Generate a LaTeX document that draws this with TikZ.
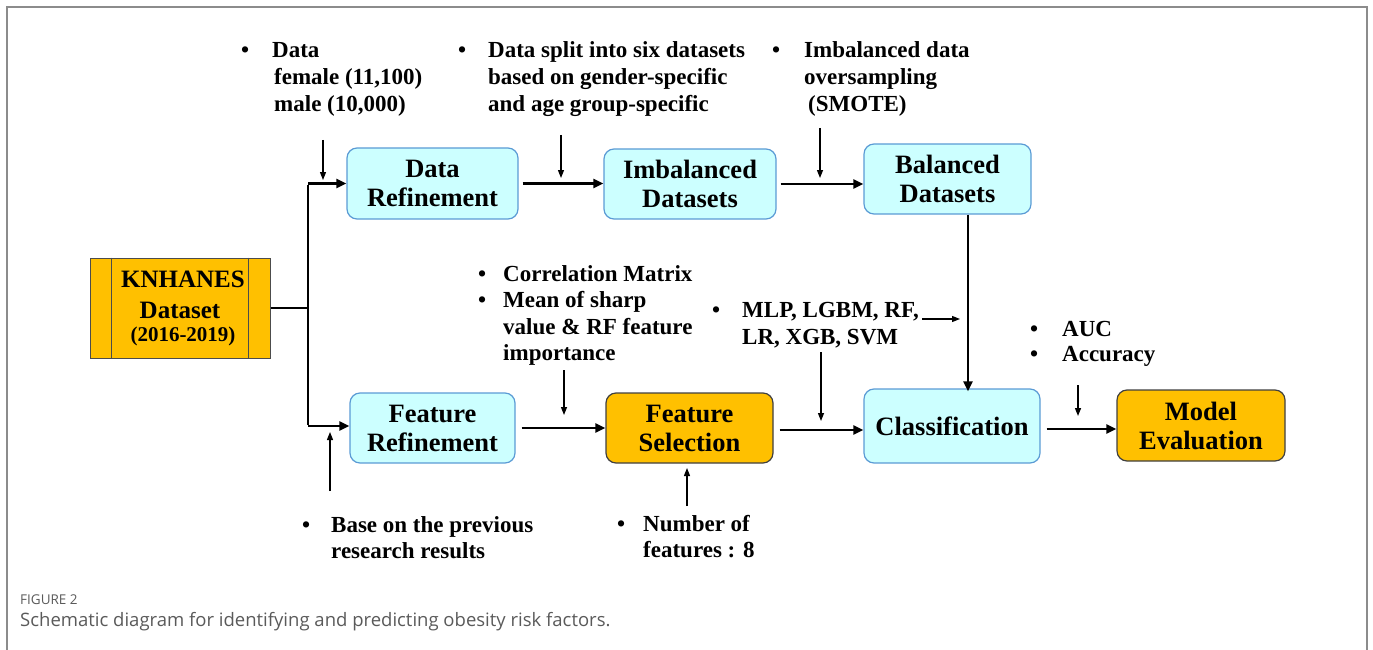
\documentclass[tikz,border=0pt]{standalone}
\usepackage{fontspec}
\setmainfont{Liberation Serif}
\newfontfamily\capfont{Open Sans}
\usetikzlibrary{arrows.meta}
\definecolor{boxcyan}{HTML}{CCFFFF}
\definecolor{cyanline}{HTML}{5B9BD5}
\definecolor{boxorange}{HTML}{FFC000}
\definecolor{framegray}{HTML}{8C8C8C}
\definecolor{captxt}{HTML}{5A5A5A}
\begin{document}
\begin{tikzpicture}[x=1pt,y=-1pt,
  cbox/.style={draw=cyanline, fill=boxcyan, rounded corners=10pt, line width=1.2pt, align=center,
    font=\bfseries\fontsize{26.5}{29}\selectfont, inner sep=0pt},
  obox/.style={draw=black!75, fill=boxorange, rounded corners=10pt, line width=1.2pt, align=center,
    font=\bfseries\fontsize{26.5}{29}\selectfont, inner sep=0pt},
  flowln/.style={line width=2.8pt},
  flowarr/.style={line width=2.8pt, -{Triangle[length=10pt,width=9pt]}},
  notearr/.style={line width=1.3pt, -{Triangle[length=8pt,width=6pt]}},
  ann/.style={anchor=base west, font=\bfseries\fontsize{23}{26}\selectfont, inner sep=0pt},
  kntxt/.style={anchor=base, font=\bfseries\fontsize{25}{30}\selectfont, inner sep=0pt}
]
\useasboundingbox (0,0) rectangle (1373,650);
% frame
\draw[framegray, line width=2pt] (7,650) -- (7,7) -- (1367,7) -- (1367,650);

% KNHANES box
\node[draw=black!70, fill=boxorange, line width=1pt, minimum width=180pt, minimum height=100pt, inner sep=0pt] (kn) at (180,308) {};
\draw[black!70, line width=1pt] ([xshift=22pt]kn.north west) -- ([xshift=22pt]kn.south west);
\draw[black!70, line width=1pt] ([xshift=-22pt]kn.north east) -- ([xshift=-22pt]kn.south east);
\node[kntxt] (kn1) at (183,287) {KNHANES};
\node[kntxt] (kn2) at (180,318) {Dataset};
\node[kntxt, font=\bfseries\fontsize{21}{25}\selectfont] (kn3) at (183,341) {(2016-2019)};

% process boxes
\node[cbox, minimum width=171pt, minimum height=71pt] (dref) at (432.5,183.5) {Data\\Refinement};
\node[cbox, minimum width=172pt, minimum height=70pt] (imb) at (690,184) {Imbalanced\\Datasets};
\node[cbox, minimum width=167pt, minimum height=70pt] (bal) at (947.5,179) {Balanced\\Datasets};
\node[cbox, minimum width=165pt, minimum height=70pt] (fref) at (432.5,428) {Feature\\Refinement};
\node[obox, minimum width=167pt, minimum height=70pt] (fsel) at (689.5,428) {Feature\\Selection};
\node[cbox, minimum width=176pt, minimum height=74pt] (cls) at (952,426) {Classification};
\node[obox, minimum width=168pt, minimum height=71pt] (mev) at (1201,425.5) {Model\\Evaluation};

% main connectors
\coordinate (jn) at (308,308);
\coordinate (jt) at (308,183.5);
\coordinate (jb) at (308,426);
\draw[flowln] (kn.east) -- (jn);
\draw[flowln] ([yshift=-1.4pt]jt) -- ([yshift=1.4pt]jb);
\draw[flowarr] (jt) -- (dref.west);
\draw[flowarr] (jb) -- (jb -| fref.west);
\draw[flowarr, shorten <=4pt] (dref.east) -- (dref.east -| imb.west);
\draw[flowarr, shorten <=4pt] (imb.east) -- (imb.east -| bal.west);
\draw[flowarr] ([xshift=20.5pt]bal.south) -- ([xshift=20.5pt,yshift=-3pt]bal.south |- cls.north);
\draw[flowarr, shorten <=6pt] (fref.east) -- (fref.east -| fsel.west);
\draw[flowarr, shorten <=6pt] ([yshift=-2pt]fsel.east) -- ([yshift=-2pt]fsel.east -| cls.west);
\draw[flowarr, shorten <=6pt] ([yshift=-3pt]cls.east) -- ([yshift=-3pt]cls.east -| mev.west);

% annotation arrows
\coordinate (n1s) at (323,140); \coordinate (n1e) at (323,180);
\coordinate (n2s) at (561,135); \coordinate (n2e) at (561,178);
\coordinate (n3s) at (820,128); \coordinate (n3e) at (820,178);
\coordinate (n4s) at (564,370); \coordinate (n4e) at (564,415);
\coordinate (n5s) at (821,352); \coordinate (n5e) at (821,421);
\coordinate (n6s) at (922,319); \coordinate (n6e) at (960,319);
\coordinate (n7s) at (1078,385); \coordinate (n7e) at (1078,416);
\coordinate (n8s) at (330,491); \coordinate (n8e) at (330,432);
\coordinate (n9s) at (687,506); \coordinate (n9e) at (687,468);
\foreach \i in {1,...,9} {\draw[notearr] (n\i s) -- (n\i e);}

% annotation texts
\node[ann] (b1) at (241,57.5) {•};
\node[ann] (t1a) at (272,57.5) {Data};
\node[ann] (t1b) at (274,84.5) {female (11,100)};
\node[ann] (t1c) at (274,111.5) {male (10,000)};

\node[ann] (b2) at (458,57.5) {•};
\node[ann] (t2a) at (488,57.5) {Data split into six datasets};
\node[ann] (t2b) at (488,84.5) {based on gender-specific};
\node[ann] (t2c) at (488,111.5) {and age group-specific};

\node[ann] (b3) at (772,57.5) {•};
\node[ann] (t3a) at (804,57.5) {Imbalanced data};
\node[ann] (t3b) at (804,84.5) {oversampling};
\node[ann] (t3c) at (808,111.5) {(SMOTE)};

\node[ann] (b4) at (478,281) {•};
\node[ann] (t4a) at (503,281) {Correlation Matrix};
\node[ann] (b4b) at (478,307) {•};
\node[ann] (t4b) at (503,307) {Mean of sharp};
\node[ann] (t4c) at (503,334) {value \& RF feature};
\node[ann] (t4d) at (503,360) {importance};

\node[ann] (b5) at (712,317) {•};
\node[ann] (t5a) at (742,317) {MLP, LGBM, RF,};
\node[ann] (t5b) at (742,344) {LR, XGB, SVM};

\node[ann] (b6) at (1030,336) {•};
\node[ann] (t6a) at (1062,336) {AUC};
\node[ann] (b6b) at (1030,361) {•};
\node[ann] (t6b) at (1062,361) {Accuracy};

\node[ann] (b7) at (302,532) {•};
\node[ann] (t7a) at (331,532) {Base on the previous};
\node[ann] (t7b) at (331,558) {research results};

\node[ann] (b8) at (617,531) {•};
\node[ann] (t8a) at (643,531) {Number of};
\node[ann] (t8b) at (643,557) {features : 8};

% caption
\node[anchor=base west, inner sep=0pt, text=captxt, font=\capfont\fontsize{13.5}{15}\selectfont] (cap1) at (20,604) {FIGURE 2};
\node[anchor=base west, inner sep=0pt, text=captxt, font=\capfont\fontsize{18.5}{20}\selectfont] (cap2) at (20,626) {Schematic diagram for identifying and predicting obesity risk factors.};
\end{tikzpicture}
\end{document}
